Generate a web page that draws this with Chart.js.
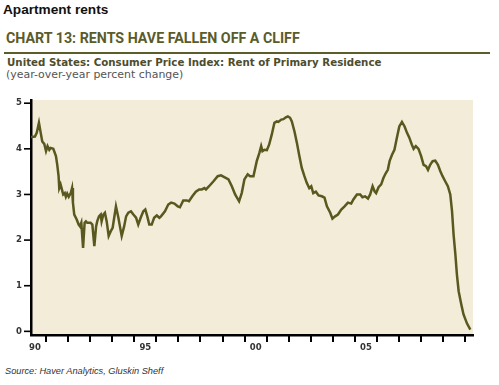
<!DOCTYPE html>
<html>
<head>
<meta charset="utf-8">
<title>Apartment rents</title>
<script src="https://cdn.jsdelivr.net/npm/chart.js"></script>
<style>
    html, body { margin: 0; padding: 0; background: #fff; }
    #page { position: relative; width: 499px; height: 385px; overflow: hidden; }
    .txt { position: absolute; white-space: nowrap; line-height: 1; transform-origin: 0 0; }
    #topTitle { left: 3px; top: 1.5px; font: bold 13.5px "Liberation Sans", Arial, sans-serif; color: #111; }
    #chartTitle { left: 6px; top: 30px; font: bold 14px Roboto, "Liberation Sans", sans-serif; color: #5b5b2a; }
    #rule { position: absolute; left: 4px; top: 51.5px; width: 486px; height: 2px; background: #5d5d2a; }
    #subTitle { left: 6.5px; top: 55.5px; font: bold 10.5px "DejaVu Sans", Verdana, sans-serif; color: #4d4d2e; }
    #unitNote { left: 6px; top: 68.4px; font: 10.5px "DejaVu Sans", Verdana, sans-serif; color: #555; }
    #source { left: 5px; top: 365.8px; font: italic 9px "Liberation Sans", Arial, sans-serif; color: #333; }
    #chartBox { position: absolute; left: 0; top: 95px; width: 499px; height: 265px; }
</style>
</head>
<body>
<div id="page">
    <div class="txt" id="topTitle">Apartment rents</div>
    <div class="txt" id="chartTitle">CHART 13: RENTS HAVE FALLEN OFF A CLIFF</div>
    <div id="rule"></div>
    <div class="txt" id="subTitle">United States: Consumer Price Index: Rent of Primary Residence</div>
    <div class="txt" id="unitNote">(year-over-year percent change)</div>
    <div id="chartBox"><canvas id="rentChart" width="499" height="265"></canvas></div>
    <div class="txt" id="source">Source: Haver Analytics, Gluskin Sheff</div>
</div>
<script>
    // Data (decimal year, % change y/y)
    const years = [
        1990.32, 1990.50, 1990.58, 1990.68, 1990.76, 1990.83, 1990.92, 1991.00, 1991.07, 1991.15,
        1991.21, 1991.33, 1991.45, 1991.51, 1991.57, 1991.60, 1991.66, 1991.72, 1991.78, 1991.85,
        1991.90, 1991.96, 1992.03, 1992.12, 1992.18, 1992.22, 1992.28, 1992.39, 1992.48, 1992.54,
        1992.60, 1992.68, 1992.75, 1992.81, 1992.87, 1993.02, 1993.10, 1993.19, 1993.27, 1993.32,
        1993.40, 1993.48, 1993.52, 1993.60, 1993.67, 1993.75, 1993.84, 1993.93, 1994.02, 1994.17,
        1994.28, 1994.35, 1994.43, 1994.54, 1994.63, 1994.73, 1994.85, 1994.96, 1995.08, 1995.18,
        1995.29, 1995.41, 1995.50, 1995.59, 1995.68, 1995.79, 1995.90, 1996.02, 1996.14, 1996.21,
        1996.39, 1996.54, 1996.67, 1996.82, 1996.97, 1997.07, 1997.22, 1997.38, 1997.48, 1997.63,
        1997.79, 1997.94, 1998.06, 1998.18, 1998.25, 1998.39, 1998.59, 1998.78, 1998.93, 1999.08,
        1999.27, 1999.42, 1999.57, 1999.75, 1999.87, 1999.99, 2000.14, 2000.25, 2000.40, 2000.55,
        2000.67, 2000.75, 2000.81, 2000.90, 2001.01, 2001.11, 2001.23, 2001.35, 2001.46, 2001.53,
        2001.66, 2001.76, 2001.87, 2001.96, 2002.06, 2002.14, 2002.26, 2002.37, 2002.47, 2002.59,
        2002.71, 2002.82, 2002.93, 2003.02, 2003.11, 2003.23, 2003.35, 2003.50, 2003.62, 2003.73,
        2003.88, 2003.98, 2004.10, 2004.23, 2004.38, 2004.53, 2004.68, 2004.83, 2004.93, 2005.09,
        2005.24, 2005.34, 2005.46, 2005.59, 2005.69, 2005.80, 2005.89, 2005.96, 2006.07, 2006.19,
        2006.29, 2006.40, 2006.49, 2006.57, 2006.68, 2006.79, 2006.90, 2007.01, 2007.13, 2007.25,
        2007.36, 2007.46, 2007.58, 2007.66, 2007.76, 2007.88, 2008.00, 2008.11, 2008.22, 2008.31,
        2008.41, 2008.52, 2008.64, 2008.76, 2008.87, 2008.97, 2009.09, 2009.21, 2009.32, 2009.40,
        2009.47, 2009.55, 2009.62, 2009.70, 2009.82, 2009.92, 2010.08, 2010.23
    ];
    const rent = [
        4.26, 4.27, 4.35, 4.57, 4.35, 4.16, 4.11, 3.95, 4.06, 3.98,
        4.02, 4.00, 3.84, 3.65, 3.40, 3.14, 3.22, 3.11, 3.00, 3.03,
        2.95, 3.02, 2.95, 3.03, 3.14, 2.82, 2.56, 2.45, 2.34, 2.30,
        2.38, 1.83, 2.38, 2.41, 2.38, 2.38, 2.34, 1.87, 2.30, 2.41,
        2.52, 2.56, 2.41, 2.56, 2.60, 2.41, 2.09, 2.19, 2.27, 2.74,
        2.49, 2.30, 2.09, 2.30, 2.52, 2.60, 2.63, 2.56, 2.49, 2.34,
        2.49, 2.63, 2.67, 2.52, 2.34, 2.34, 2.49, 2.54, 2.49, 2.52,
        2.63, 2.78, 2.82, 2.80, 2.74, 2.72, 2.87, 2.87, 2.85, 2.96,
        3.06, 3.11, 3.11, 3.14, 3.11, 3.18, 3.29, 3.40, 3.42, 3.38,
        3.33, 3.18, 3.00, 2.85, 3.03, 3.33, 3.44, 3.40, 3.40, 3.73,
        3.91, 4.06, 3.95, 3.98, 3.97, 4.09, 4.31, 4.57, 4.60, 4.59,
        4.64, 4.65, 4.69, 4.71, 4.68, 4.60, 4.38, 4.13, 3.87, 3.58,
        3.40, 3.25, 3.14, 3.18, 3.03, 3.06, 2.98, 2.96, 2.93, 2.74,
        2.60, 2.47, 2.52, 2.56, 2.67, 2.74, 2.82, 2.80, 2.89, 3.00,
        3.00, 2.94, 2.96, 2.91, 3.00, 3.18, 3.07, 3.03, 3.16, 3.22,
        3.36, 3.47, 3.54, 3.73, 3.87, 3.98, 4.24, 4.49, 4.59, 4.49,
        4.35, 4.25, 4.09, 4.00, 4.06, 4.00, 3.84, 3.65, 3.62, 3.54,
        3.65, 3.73, 3.74, 3.65, 3.51, 3.40, 3.29, 3.18, 3.00, 2.63,
        2.12, 1.69, 1.25, 0.88, 0.59, 0.37, 0.17, 0.04
    ];

    // Axis ticks
    const yTicks = [0, 1, 2, 3, 4, 5];
    const xTickYears = [1991, 1992, 1993, 1994, 1995, 1996, 1997, 1998, 1999, 2000,
                        2001, 2002, 2003, 2004, 2005, 2006, 2007, 2008, 2009, 2010];
    const xLabelYears = [1990.5, 1995.5, 2000.5, 2005.5];
    const xLabels = ['90', '95', '00', '05'];

    const axisFont = { family: '"DejaVu Sans", sans-serif', size: 8.5, weight: 'bold' };

    // stretch / squeeze the texts to the widths they have in the original
    function fitWidth(id, width) {
        const el = document.getElementById(id);
        el.style.transform = 'scaleX(' + (width / el.offsetWidth) + ')';
    }
    fitWidth('topTitle', 105);
    fitWidth('chartTitle', 294);
    fitWidth('subTitle', 374);
    fitWidth('unitNote', 177);
    fitWidth('source', 158);

    // beige plot background
    const plotBackground = {
        id: 'plotBackground',
        beforeDraw(chart) {
            const { ctx, chartArea } = chart;
            ctx.save();
            ctx.fillStyle = '#f3ecd9';
            ctx.fillRect(chartArea.left, chartArea.top, chartArea.right - chartArea.left, chartArea.bottom - chartArea.top);
            ctx.restore();
        }
    };

    // short black tick marks outside the axes
    const axisTicks = {
        id: 'axisTicks',
        afterDraw(chart) {
            const c = chart.ctx;
            const x = chart.scales.x;
            const y = chart.scales.y;
            const area = chart.chartArea;
            c.save();
            c.fillStyle = '#000';
            xTickYears.forEach(v => {
                const px = Math.round(x.getPixelForValue(v));
                c.fillRect(px - 1, area.bottom + 1, 2, 6);
            });
            yTicks.forEach(v => {
                const py = y.getPixelForValue(v);
                c.fillRect(area.left - 7, py - 0.8, 6, 1.6);
            });
            c.restore();
        }
    };

    const ctx = document.getElementById('rentChart').getContext('2d');

    new Chart(ctx, {
        type: 'line',
        data: {
            datasets: [{
                data: years.map((yr, i) => ({ x: yr, y: rent[i] })),
                borderColor: '#58581f',
                borderWidth: 2.5,
                pointRadius: 0,
                tension: 0,
                fill: false
            }]
        },
        options: {
            responsive: false,
            animation: false,
            layout: { padding: { top: 5, right: 26, left: 0, bottom: 0 } },
            plugins: {
                legend: { display: false },
                tooltip: { enabled: false }
            },
            scales: {
                x: {
                    type: 'linear',
                    position: 'bottom',
                    min: 1990.32,
                    max: 2010.35,
                    afterBuildTicks: scale => { scale.ticks = xTickYears.map(v => ({ value: v })); },
                    afterFit: scale => { scale.height = 5; },
                    ticks: { display: false },
                    grid: { display: false, drawTicks: false },
                    border: { display: true, color: '#000', width: 2.5 }
                },
                x2: {
                    type: 'linear',
                    position: 'bottom',
                    min: 1990.32,
                    max: 2010.35,
                    afterBuildTicks: scale => { scale.ticks = xLabelYears.map(v => ({ value: v })); },
                    afterFit: scale => { scale.height = 20; },
                    ticks: {
                        padding: 3,
                        maxRotation: 0,
                        autoSkip: false,
                        color: '#333',
                        font: axisFont,
                        callback: value => xLabels[xLabelYears.indexOf(value)]
                    },
                    grid: { display: false, drawTicks: false, tickLength: 0 },
                    border: { display: false }
                },
                y: {
                    min: -0.08,
                    max: 5.07,
                    afterBuildTicks: scale => { scale.ticks = yTicks.map(v => ({ value: v })); },
                    afterFit: scale => {
                        scale.width = 31;
                        scale.paddingTop = 0;
                        scale.paddingBottom = 0;
                    },
                    ticks: { padding: 2, color: '#333', font: axisFont },
                    grid: { display: false, drawTicks: true, tickLength: 7 },
                    border: { display: true, color: '#000', width: 2.5 }
                }
            }
        },
        plugins: [plotBackground, axisTicks]
    });
</script>
</body>
</html>
